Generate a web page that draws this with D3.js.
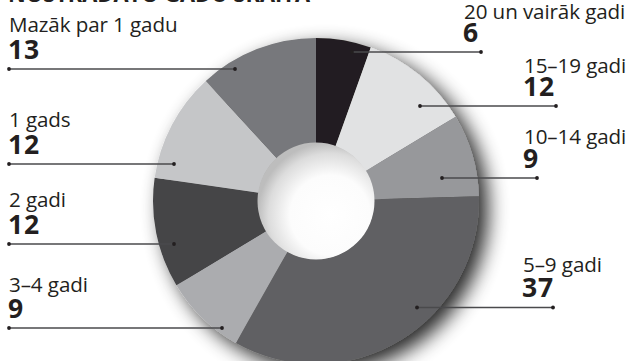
<!DOCTYPE html>
<html>
<head>
<meta charset="utf-8">
<script src="https://cdn.jsdelivr.net/npm/d3@7"></script>
<style>
  html, body { margin: 0; padding: 0; background: #fff; }
  svg { display: block; }
</style>
</head>
<body>
<svg id="chart" width="635" height="361"></svg>
<script>
// ---- data ----
const title = "NOSTRĀDĀTO GADU SKAITA";
const categories = ["20 un vairāk gadi", "15–19 gadi", "10–14 gadi", "5–9 gadi", "3–4 gadi", "2 gadi", "1 gads", "Mazāk par 1 gadu"];
const values = [6, 12, 9, 37, 9, 12, 12, 13];
const colors = ["#231f20", "#e1e2e3", "#97989b", "#616163", "#abacaf", "#444446", "#c5c6c8", "#77787b"];

// label layout (annotation anchors): text x, label baseline y, leader line y, line x1/x2
const labelLayout = [
  { tx: 464, ty: 19,  ly: 52,  x1: 352, x2: 481 },
  { tx: 524, ty: 73,  ly: 106, x1: 420, x2: 556 },
  { tx: 524, ty: 144, ly: 178, x1: 442, x2: 537 },
  { tx: 523, ty: 272, ly: 307.5, x1: 417, x2: 553 },
  { tx: 9,   ty: 292, ly: 328, x1: 9,   x2: 222 },
  { tx: 9,   ty: 207, ly: 244, x1: 9,   x2: 174 },
  { tx: 9,   ty: 127, ly: 164, x1: 9,   x2: 174 },
  { tx: 9,   ty: 32,  ly: 69,  x1: 9,   x2: 235 }
];

const svg = d3.select("#chart");
const cx = 316, cy = 201, R = 163, r0 = 58;
const font = "'Source Sans Pro', 'Open Sans', sans-serif";

const defs = svg.append("defs");
const f = defs.append("filter").attr("id", "shadow")
  .attr("x", "-20%").attr("y", "-20%").attr("width", "150%").attr("height", "150%");
f.append("feGaussianBlur").attr("in", "SourceAlpha").attr("stdDeviation", 10).attr("result", "b");
f.append("feOffset").attr("in", "b").attr("dx", 9).attr("dy", 8).attr("result", "o");
f.append("feComponentTransfer").attr("in", "o").attr("result", "o2")
  .append("feFuncA").attr("type", "linear").attr("slope", 0.85);
const m = f.append("feMerge");
m.append("feMergeNode").attr("in", "o2");
m.append("feMergeNode").attr("in", "SourceGraphic");

const g1 = defs.append("radialGradient").attr("id", "hole")
  .attr("cx", "0.62").attr("cy", "0.62").attr("r", "0.62").attr("fx", "0.62").attr("fy", "0.62");
g1.append("stop").attr("offset", "0").attr("stop-color", "#ffffff");
g1.append("stop").attr("offset", "0.55").attr("stop-color", "#fcfcfc");
g1.append("stop").attr("offset", "0.85").attr("stop-color", "#dcdcdc");
g1.append("stop").attr("offset", "1").attr("stop-color", "#bdbdbd");

// title (cut off at top)
svg.append("text")
  .attr("x", 8).attr("y", 2)
  .attr("font-family", font).attr("font-weight", 700).attr("font-size", 23)
  .attr("fill", "#231f20")
  .attr("textLength", 302).attr("lengthAdjust", "spacingAndGlyphs")
  .text(title);

const pie = d3.pie().sort(null).value(d => d)(values);
const arc = d3.arc().innerRadius(r0).outerRadius(R);

const pieG = svg.append("g").attr("transform", `translate(${cx},${cy})`);
const slices = pieG.append("g").attr("filter", "url(#shadow)");
slices.selectAll("path").data(pie).join("path")
  .attr("d", arc)
  .attr("fill", (d, i) => colors[i]);

pieG.append("circle").attr("r", r0 + 0.5).attr("fill", "url(#hole)");

// leader lines
const lines = svg.append("g");
labelLayout.forEach((L, i) => {
  lines.append("line")
    .attr("x1", L.x1).attr("x2", L.x2).attr("y1", L.ly).attr("y2", L.ly)
    .attr("stroke", "#4a4a4c").attr("stroke-width", 1.3);
  [L.x1, L.x2].forEach(x => lines.append("circle")
    .attr("cx", x).attr("cy", L.ly).attr("r", 1.9).attr("fill", "#231f20"));
});

// labels
const labels = svg.append("g").attr("font-family", font).attr("fill", "#231f20");
labelLayout.forEach((L, i) => {
  labels.append("text")
    .attr("x", L.tx).attr("y", L.ty)
    .attr("font-size", 20.6)
    .attr("letter-spacing", -0.1)
    .text(categories[i]);
  labels.append("text")
    .attr("x", L.tx - 1).attr("y", L.ly - 10.5)
    .attr("font-size", 26.5).attr("font-weight", 700)
    .attr("letter-spacing", 0.8)
    .text(values[i]);
});
</script>
</body>
</html>
